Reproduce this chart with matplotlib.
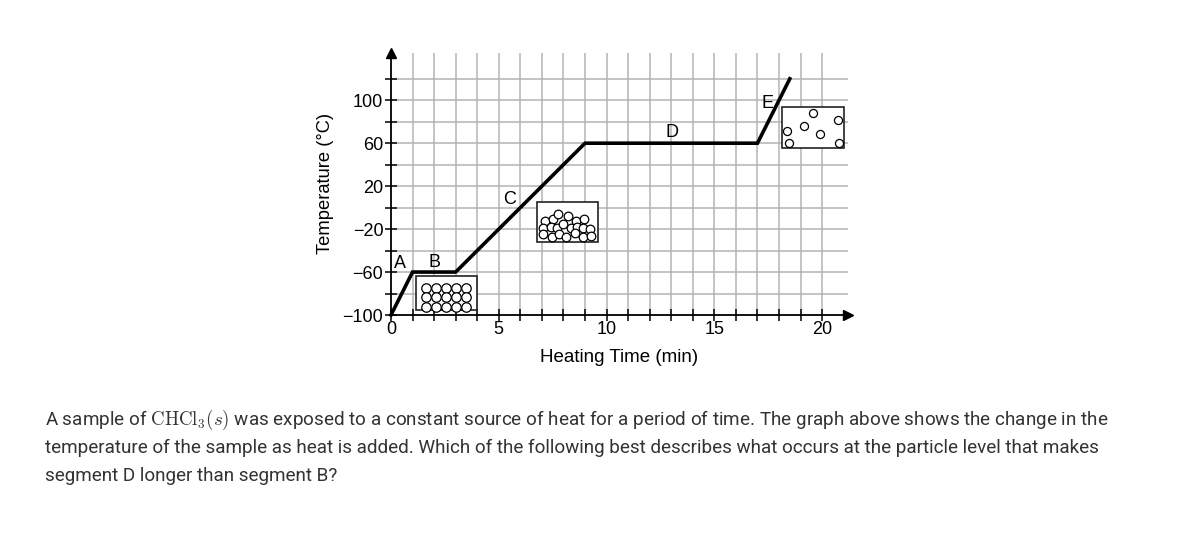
import numpy as np
import matplotlib
matplotlib.use("Agg")
import matplotlib.pyplot as plt
import matplotlib.patches as patches

plt.rcParams['font.family'] = ['Liberation Sans', 'DejaVu Sans']
plt.rcParams['mathtext.fontset'] = 'cm'

# heating curve (time in min, temperature in C)
curve_time = [0, 1, 3, 9, 17, 18.5]
curve_temp = [-100, -60, -60, 60, 60, 120]

segment_labels = ['A', 'B', 'C', 'D', 'E']
label_time = [0.42, 2.04, 5.52, 13.03, 17.45]
label_temp = [-52.5, -51.3, 7.7, 69.5, 97.1]

y_ticks = [-100, -80, -60, -40, -20, 0, 20, 40, 60, 80, 100, 120]
y_tick_labels = ['\u2212100', '', '\u221260', '', '\u221220', '', '20', '', '60', '', '100', '']
x_ticks = list(range(0, 21))
x_tick_labels = ['0', '', '', '', '', '5', '', '', '', '', '10', '', '', '', '', '15', '', '', '', '', '20']

# particle boxes: (x0, x1, y0, y1)
solid_box = (1.15, 3.97, -95.3, -63.7)
liquid_box = (6.76, 9.59, -31.8, 5.5)
gas_box = (18.15, 21.02, 55.2, 93.4)

solid_cols = [1.62, 2.10, 2.57, 3.03, 3.50]
solid_rows = [-74.9, -83.7, -92.6]

liquid_x = [7.14, 7.50, 7.76, 8.20, 8.58, 8.95,
            7.04, 7.41, 7.69, 7.99, 8.33, 8.64, 8.92, 9.23,
            7.06, 7.45, 7.80, 8.12, 8.53, 8.92, 9.28]
liquid_y = [-12.5, -10.6, -6.2, -7.8, -12.5, -10.6,
            -19.3, -17.8, -19.3, -15.5, -19.3, -17.8, -19.3, -19.9,
            -24.9, -27.1, -24.9, -27.1, -23.9, -27.1, -26.2]

gas_x = [19.59, 20.75, 18.38, 19.16, 19.90, 18.46, 20.78]
gas_y = [88.4, 81.6, 71.6, 76.0, 68.5, 59.9, 59.9]

question = [
    r"A sample of $\mathrm{CHCl}_3(s)$ was exposed to a constant source of heat for a period of time. "
    "The graph above shows the change in the",
    "temperature of the sample as heat is added. Which of the following best describes what occurs "
    "at the particle level that makes",
    "segment D longer than segment B?",
]

W, H = 1194, 560
fig = plt.figure(figsize=(W / 100, H / 100), dpi=100)
ax = fig.add_axes([391 / W, 1 - 315 / H, (848 - 391) / W, (315 - 53) / H])
ax.set_xlim(0, 21.2)
ax.set_ylim(-100, 144)

grid_col = '#b4b4b4'
for xv in range(1, 21):
    ax.axvline(xv, color=grid_col, lw=1.1, zorder=0)
for yv in y_ticks[1:]:
    ax.axhline(yv, color=grid_col, lw=1.1, zorder=0)

ax.spines['top'].set_visible(False)
ax.spines['right'].set_visible(False)
for s in ['left', 'bottom']:
    ax.spines[s].set_linewidth(1.3)
    ax.spines[s].set_color('black')
ax.plot(1, -100, '>k', ms=7, transform=ax.get_yaxis_transform(), clip_on=False)
ax.plot(0, 1, '^k', ms=7, transform=ax.get_xaxis_transform(), clip_on=False)

ax.set_yticks(y_ticks)
ax.set_yticklabels(y_tick_labels)
ax.set_xticks(x_ticks)
ax.set_xticklabels(x_tick_labels)
ax.tick_params(direction='inout', length=9, width=1.1, labelsize=13, colors='black')
ax.tick_params(axis='y', pad=1)
ax.tick_params(axis='x', pad=0)

ax.plot(curve_time, curve_temp, color='black', lw=2.6, solid_joinstyle='miter',
        clip_on=False, zorder=4)

for lab, tx, ty in zip(segment_labels, label_time, label_temp):
    ax.text(tx, ty, lab, fontsize=13, ha='center', va='center', zorder=5)

for x0, x1, y0, y1 in [solid_box, liquid_box, gas_box]:
    ax.add_patch(patches.Rectangle((x0, y0), x1 - x0, y1 - y0, facecolor='white',
                                   edgecolor='#222222', lw=1.2, zorder=3, clip_on=False))

sx, sy = np.meshgrid(solid_cols, solid_rows)
ax.plot(sx.ravel(), sy.ravel(), 'o', ms=6.8, mfc='white', mec='black', mew=0.9,
        zorder=4, clip_on=False)
ax.plot(liquid_x, liquid_y, 'o', ms=6.2, mfc='white', mec='black', mew=0.9,
        zorder=4, clip_on=False)
ax.plot(gas_x, gas_y, 'o', ms=5.8, mfc='white', mec='black', mew=0.9,
        zorder=4, clip_on=False)

fig.text(325.5 / W, 1 - 183 / H, 'Temperature (\u00b0C)', rotation=90,
         ha='center', va='center', fontsize=13.2)
fig.text(619.5 / W, 1 - 358 / H, 'Heating Time (min)', ha='center', va='center',
         fontsize=13.5)

baselines = [425, 453, 481]
for line, yb in zip(question, baselines):
    fig.text(45 / W, 1 - yb / H, line, ha='left', va='baseline', fontsize=13.6,
             family=['Roboto', 'DejaVu Sans'], color='#333333')

fig.savefig('out.png', dpi=100)
